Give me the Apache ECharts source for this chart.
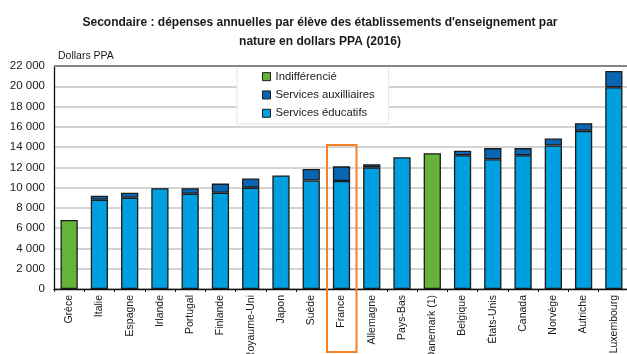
<!DOCTYPE html>
<html>
<head>
<meta charset="utf-8">
<script src="https://cdn.jsdelivr.net/npm/echarts@6/dist/echarts.min.js"></script>
<style>
  html, body { margin: 0; padding: 0; background: #fff; }
  #chart { width: 627px; height: 354px; }
</style>
</head>
<body>
<div id="chart"></div>
<script>
// Secondary education: annual spending per pupil by type of service (USD PPP, 2016)
const countries = ['Grèce', 'Italie', 'Espagne', 'Irlande', 'Portugal', 'Finlande', 'Royaume-Uni', 'Japon', 'Suède', 'France',
  'Allemagne', 'Pays-Bas', 'Danemark (1)', 'Belgique', 'États-Unis', 'Canada', 'Norvège', 'Autriche', 'Luxembourg'];
const servicesEducatifs = [null, 8800, 9000, 9950, 9400, 9500, 10000, 11200, 10700, 10650,
  12000, 13000, null, 13200, 12800, 13200, 14150, 15600, 19900];
const servicesAuxiliaires = [null, 400, 500, null, 550, 900, 900, null, 1150, 1450,
  300, null, null, 450, 1100, 700, 700, 750, 1600];
const indifferencie = [6800, null, null, null, null, null, null, null, null, null,
  null, null, 13400, null, null, null, null, null, null];
const yTicks = [0, 2000, 4000, 6000, 8000, 10000, 12000, 14000, 16000, 18000, 20000, 22000];
const highlighted = 'France';

const FONT = '"Liberation Sans", Arial, sans-serif';
const border = { borderColor: '#1b1b1b', borderWidth: 1.3 };
const fmt = v => String(v).replace(/\B(?=(\d{3})+(?!\d))/g, ' ');

const chart = echarts.init(document.getElementById('chart'), null, { renderer: 'canvas' });

chart.setOption({
  animation: false,
  textStyle: { fontFamily: FONT },
  title: {
    text: "Secondaire : dépenses annuelles par élève des établissements d'enseignement par\nnature en dollars PPA (2016)",
    left: 315, textAlign: 'center', top: 8,
    textStyle: { fontFamily: FONT, fontSize: 12, fontWeight: 'bold', color: '#1a1a1a', lineHeight: 19 }
  },
  legend: {
    data: ['Indifférencié', 'Services auxilliaires', 'Services éducatifs'],
    orient: 'vertical',
    left: 237, top: 66,
    padding: [5, 14, 5, 25],
    itemWidth: 8, itemHeight: 8, itemGap: 7,
    icon: 'rect',
    backgroundColor: '#fff',
    borderColor: '#e4e4e4', borderWidth: 1,
    textStyle: { fontFamily: FONT, fontSize: 11.3, color: '#1a1a1a', lineHeight: 11.3 },
    itemStyle: { borderColor: '#1b1b1b', borderWidth: 1 }
  },
  grid: { left: 54, right: -2, top: 66, bottom: 65, containLabel: false, outerBoundsMode: 'none' },
  xAxis: {
    type: 'category',
    data: countries,
    axisLine: { lineStyle: { color: '#111', width: 1.3 } },
    axisTick: { show: true, alignWithLabel: false, length: 3, lineStyle: { color: '#111' } },
    axisLabel: { rotate: 90, interval: 0, margin: 6, fontSize: 10.5, color: '#1a1a1a', fontFamily: FONT }
  },
  yAxis: {
    type: 'value',
    min: yTicks[0], max: yTicks[yTicks.length - 1], interval: yTicks[1] - yTicks[0],
    name: 'Dollars PPA', nameLocation: 'end', nameGap: 4,
    nameTextStyle: { align: 'left', padding: [0, 0, 0, 4], fontSize: 10.5, color: '#1a1a1a', fontFamily: FONT },
    axisLine: { show: true, lineStyle: { color: '#111', width: 1.3 } },
    axisTick: { show: false },
    axisLabel: { formatter: fmt, fontSize: 11.5, color: '#1a1a1a', margin: 9, fontFamily: FONT },
    splitLine: { show: true, lineStyle: { color: '#c4c4c4', width: 1.6 } }
  },
  series: [
    {
      name: 'Services éducatifs', type: 'bar', stack: 'total',
      data: servicesEducatifs, barWidth: '57%',
      itemStyle: Object.assign({ color: '#009fdf' }, border),
      markLine: {
        silent: true, symbol: 'none', label: { show: false },
        lineStyle: { color: '#858585', width: 2, type: 'solid' },
        data: [{ yAxis: yTicks[yTicks.length - 1] }]
      }
    },
    {
      name: 'Services auxilliaires', type: 'bar', stack: 'total',
      data: servicesAuxiliaires, barWidth: '57%',
      itemStyle: Object.assign({ color: '#0866b2' }, border)
    },
    {
      name: 'Indifférencié', type: 'bar', stack: 'total',
      data: indifferencie, barWidth: '57%',
      itemStyle: Object.assign({ color: '#66b33a' }, border)
    }
  ]
});

// Orange frame around the highlighted country, spanning its bar and label
const cx = chart.convertToPixel({ xAxisIndex: 0 }, highlighted);
const yTop = chart.convertToPixel({ yAxisIndex: 0 }, 14200);
chart.setOption({
  graphic: [{
    type: 'rect', z: 100, silent: true,
    shape: { x: cx - 14.5, y: yTop, width: 29.5, height: 352 - yTop },
    style: { fill: 'none', stroke: '#f5822a', lineWidth: 2 }
  }]
});
</script>
</body>
</html>
